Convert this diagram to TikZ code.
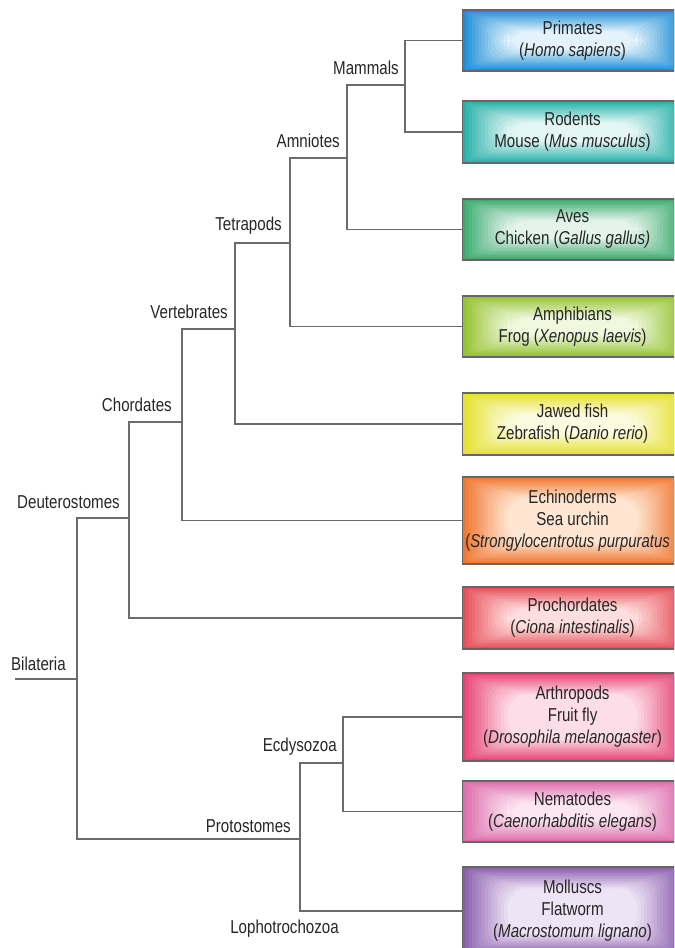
\documentclass[tikz,border=0pt]{standalone}
\usepackage{fontspec}
\setmainfont{Liberation Sans}[FakeStretch=0.81]
\begin{document}
\begin{tikzpicture}[x=0.75pt,y=-0.75pt,
  line/.style={draw=black!58, line width=1pt},
  lab/.style={anchor=base east, inner sep=0pt, text=black!85, font=\fontsize{14}{16.5}\selectfont},
  box/.style={anchor=west, draw=black!60, line width=0.8pt, minimum width=165pt,
    inner xsep=0pt, inner ysep=0pt, align=center, text=black!85,
    font=\fontsize{14}{16.5}\selectfont, fill=bxout,
    path picture={
      \foreach \i [evaluate=\i as \p using {int(100-\i*100/14)}] in {1,...,14} {
        \fill[bxout!\p!bxin, rounded corners=\i*1.1pt]
          ([shift={(\i*2.4pt,-\i*1.15pt)}]path picture bounding box.north west) rectangle
          ([shift={(-\i*2.4pt,\i*1.15pt)}]path picture bounding box.south east);
      }
    }},
  bc/.code 2 args={\definecolor{bxin}{RGB}{#1}\definecolor{bxout}{RGB}{#2}},
]
\useasboundingbox (0,0) rectangle (674,948);
\clip (0,0) rectangle (674,948);

% leaf boxes
\node[bc={228,243,251}{28,142,214}, box, minimum height=45.75pt] (prim) at (462,40.5) {Primates\\(\textit{Homo sapiens})};
\node[bc={228,246,244}{36,176,168}, box, minimum height=46.5pt] (rod) at (462,132) {Rodents\\Mouse (\textit{Mus musculus})};
\node[bc={228,244,235}{60,170,110}, box, minimum height=45.75pt] (aves) at (462,229.5) {Aves\\Chicken (\textit{Gallus gallus)}};
\node[bc={240,248,222}{148,194,48}, box, minimum height=45.75pt] (amph) at (462,326.5) {Amphibians\\Frog (\textit{Xenopus laevis})};
\node[bc={252,251,224}{230,224,46}, box, minimum height=46.5pt] (fish) at (462,424) {Jawed fish\\Zebrafish (\textit{Danio rerio})};
\node[bc={254,230,210}{240,118,48}, box, minimum height=65.25pt] (echi) at (462,520.5) {Echinoderms\\Sea urchin\\\scalebox{0.985}[1]{(\textit{Strongylocentrotus purpuratus}}\rule{7.5pt}{0pt}};
\node[bc={254,222,222}{230,78,88}, box, minimum height=46.5pt] (proch) at (462,618) {Prochordates\\(\textit{Ciona intestinalis})};
\node[bc={253,222,232}{230,68,118}, box, minimum height=66pt] (arth) at (462,717) {Arthropods\\Fruit fly\\(\textit{Drosophila melanogaster})};
\node[bc={251,230,241}{220,108,172}, box, minimum height=45.75pt] (nema) at (462,811.5) {Nematodes\\(\textit{Caenorhabditis elegans})};
\node[bc={238,228,245}{138,93,173}, box, minimum height=66pt] (moll) at (462,911) {Molluscs\\Flatworm\\(\textit{Macrostomum lignano})};

% internal nodes
\coordinate (root) at (15,679);
\coordinate (bil) at (77,679);
\coordinate (deut) at (129,518);
\coordinate (chord) at (182,422);
\coordinate (vert) at (235,329);
\coordinate (tetra) at (290,243);
\coordinate (amnio) at (347,158);
\coordinate (mamm) at (405,85);
\coordinate (proto) at (300,839);
\coordinate (ecdy) at (343,763);

% connectors
\draw[line] (root) -- (bil);
\draw[line] (bil) |- (deut);
\draw[line] (bil) |- (proto);
\draw[line] (deut) |- (chord);
\draw[line] (deut) |- (proch.west);
\draw[line] (chord) |- (vert);
\draw[line] (chord) |- (echi.west);
\draw[line] (vert) |- (tetra);
\draw[line] (vert) |- (fish.west);
\draw[line] (tetra) |- (amnio);
\draw[line] (tetra) |- (amph.west);
\draw[line] (amnio) |- (mamm);
\draw[line] (amnio) |- (aves.west);
\draw[line] (mamm) |- (prim.west);
\draw[line] (mamm) |- (rod.west);
\draw[line] (proto) |- (ecdy);
\draw[line] (proto) |- (moll.west);
\draw[line] (ecdy) |- (arth.west);
\draw[line] (ecdy) |- (nema.west);

% labels
\node[lab] (lmamm) at (399,75) {Mammals};
\node[lab] (lamnio) at (340,148) {Amniotes};
\node[lab] (ltetra) at (282,231) {Tetrapods};
\node[lab] (lvert) at (228,318) {Vertebrates};
\node[lab] (lchord) at (172,411) {Chordates};
\node[lab] (ldeut) at (120,508) {Deuterostomes};
\node[lab] (lbil) at (66,670) {Bilateria};
\node[lab] (lproto) at (291,832) {Protostomes};
\node[lab] (lecdy) at (337,751) {Ecdysozoa};
\node[lab] (lloph) at (339,933) {Lophotrochozoa};
\end{tikzpicture}
\end{document}
